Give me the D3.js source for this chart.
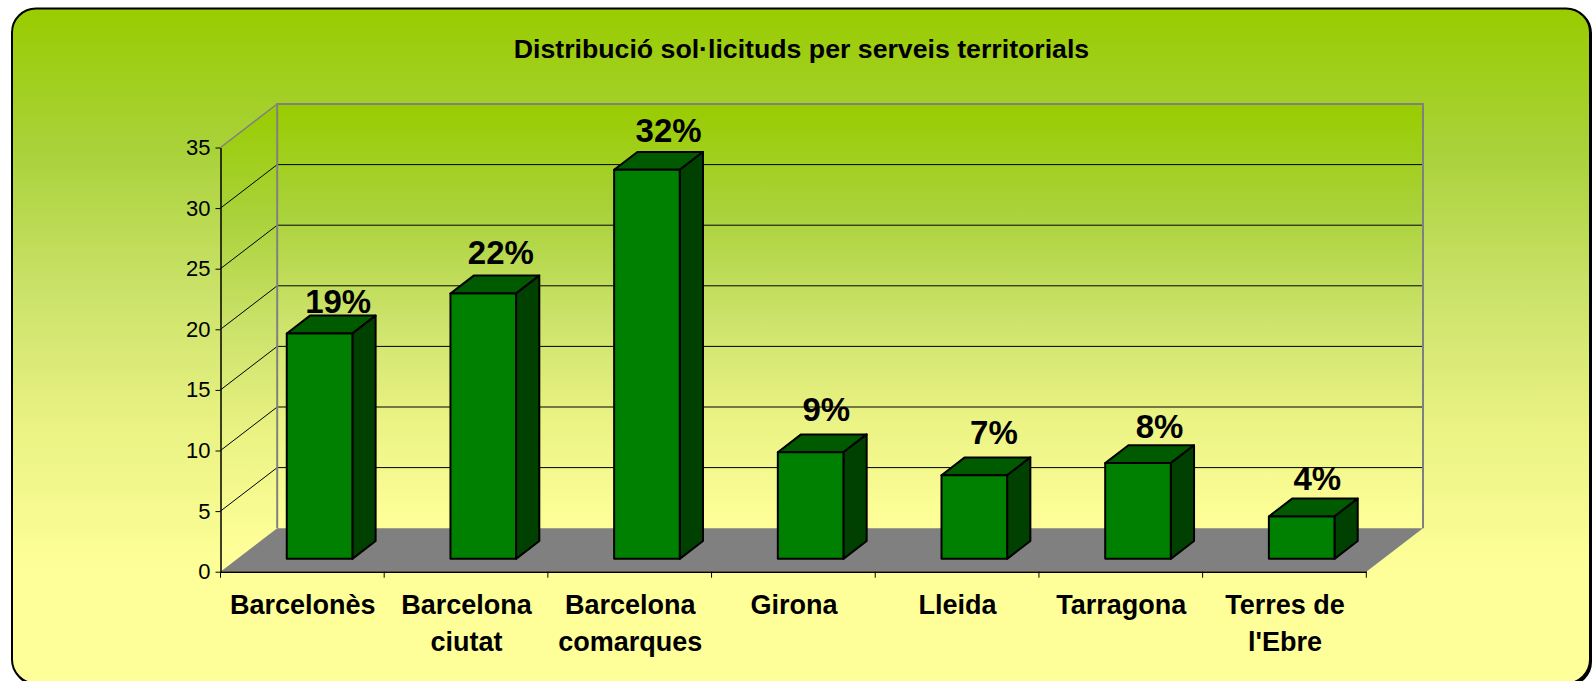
<!DOCTYPE html>
<html>
<head>
<meta charset="utf-8">
<script src="https://cdn.jsdelivr.net/npm/d3@7"></script>
<style>
  html, body { margin: 0; padding: 0; background: #fff; overflow: hidden; }
  text { font-family: "Liberation Sans", Arial, sans-serif; fill: #000; }
</style>
</head>
<body>
<div id="chart"></div>
<script>
// ---------- data ----------
var titleText = "Distribució sol·licituds per serveis territorials";
var categories = ["Barcelonès", "Barcelona ciutat", "Barcelona comarques", "Girona", "Lleida", "Tarragona", "Terres de l'Ebre"];
var values = [18.6, 21.9, 32.1, 8.8, 6.9, 7.9, 3.5];
var percentLabels = ["19%", "22%", "32%", "9%", "7%", "8%", "4%"];
var yTicks = [0, 5, 10, 15, 20, 25, 30, 35];

// ---------- layout ----------
var width = 1593,
    height = 681,
    axisLeft = 220.5,
    axisRight = 1366.3,
    axisBottom = 571.7,
    axisTop = 147.5,
    depthX = 56.7,   // floor depth, front to back wall
    depthY = -43.5,
    barW = 65.6,
    barDepth = 0.41; // share of floor depth taken by a bar

// hand placed percent labels, the original does not sit them evenly
var labelNudgeX = [7, 6, 10, 4, 8, 10, 4];
var labelNudgeY = [-3, -12, -10, -13, -13, -7, -9];

var x = d3.scaleBand().domain(categories).range([axisLeft, axisRight]);
var y = d3.scaleLinear().domain([0, 35]).range([axisBottom, axisTop]);

var svg = d3.select("#chart").append("svg")
    .attr("width", width)
    .attr("height", height)
    .style("display", "block");

function gradient(id, y1, y2) {
    var g = svg.append("defs").append("linearGradient")
        .attr("id", id)
        .attr("gradientUnits", "userSpaceOnUse")
        .attr("x1", 0).attr("x2", 0)
        .attr("y1", y1).attr("y2", y2);
    g.append("stop").attr("offset", 0).attr("stop-color", "#99cc00");
    g.append("stop").attr("offset", 0.25).attr("stop-color", "#a9d23a");
    g.append("stop").attr("offset", 0.5).attr("stop-color", "#cbe26a");
    g.append("stop").attr("offset", 0.75).attr("stop-color", "#ebf384");
    g.append("stop").attr("offset", 1).attr("stop-color", "#ffff99");
}
gradient("panelFill", 8, 575);
gradient("wallFill", y(35) + depthY, y(0) + depthY);
gradient("sideFill", y(35) + depthY, y(0) + depthY / 2);

// panel with hard shadow
svg.append("rect")
    .attr("x", 13).attr("y", 9)
    .attr("width", 1579).attr("height", 677)
    .attr("rx", 24)
    .attr("fill", "#000");
svg.append("rect")
    .attr("x", 12).attr("y", 8.5)
    .attr("width", 1578).attr("height", 675)
    .attr("rx", 24)
    .attr("fill", "url(#panelFill)")
    .attr("stroke", "#000")
    .attr("stroke-width", 2);

svg.append("text")
    .attr("x", 801.5)
    .attr("y", 58)
    .attr("text-anchor", "middle")
    .style("font-size", "26.7px")
    .style("font-weight", "bold")
    .text(titleText);

// walls and floor
function pts(a) { return a.map(function(p) { return p.join(","); }).join(" "); }

svg.append("polygon")
    .attr("points", pts([[axisLeft, y(0)], [axisLeft, y(35)], [axisLeft + depthX, y(35) + depthY], [axisLeft + depthX, y(0) + depthY]]))
    .attr("fill", "url(#sideFill)");
svg.append("rect")
    .attr("x", axisLeft + depthX)
    .attr("y", y(35) + depthY)
    .attr("width", axisRight - axisLeft)
    .attr("height", y(0) - y(35))
    .attr("fill", "url(#wallFill)");
svg.append("polygon")
    .attr("points", pts([[axisLeft, y(0)], [axisRight, y(0)], [axisRight + depthX, y(0) + depthY], [axisLeft + depthX, y(0) + depthY]]))
    .attr("fill", "#808080");

// gridlines on both walls
var grid = svg.append("g").attr("fill", "none").attr("stroke", "#000").attr("stroke-width", 1);
grid.selectAll("polyline")
    .data(yTicks.slice(1, -1))
    .enter().append("polyline")
    .attr("points", function(d) {
        return pts([[axisLeft, y(d)], [axisLeft + depthX, y(d) + depthY], [axisRight + depthX, y(d) + depthY]]);
    });
grid.append("line")
    .attr("x1", axisLeft).attr("x2", axisLeft + depthX)
    .attr("y1", y(35)).attr("y2", y(35) + depthY)
    .attr("stroke", "#808080").attr("stroke-width", 1.5);

// grey frame of the back wall
svg.append("polyline")
    .attr("points", pts([
        [axisLeft + depthX, y(0) + depthY],
        [axisLeft + depthX, y(35) + depthY],
        [axisRight + depthX, y(35) + depthY],
        [axisRight + depthX, y(0) + depthY]]))
    .attr("fill", "none")
    .attr("stroke", "#808080")
    .attr("stroke-width", 2);

// bars: front face, top and side
var dx = depthX * barDepth,
    dy = depthY * barDepth,
    offX = depthX * (1 - barDepth) / 2,
    offY = depthY * (1 - barDepth) / 2;

var bars = svg.selectAll("g.bar")
    .data(categories.map(function(c, i) { return { name: c, value: values[i], label: percentLabels[i], i: i }; }))
    .enter().append("g")
    .attr("class", "bar")
    .attr("stroke", "#000")
    .attr("stroke-width", 2)
    .attr("stroke-linejoin", "round");

function barX(d) { return x(d.name) + (x.bandwidth() - barW) / 2 + offX + 0.5; }

bars.append("polygon")
    .attr("fill", "#005a00")
    .attr("points", function(d) {
        var l = barX(d), t = y(d.value) + offY;
        return pts([[l, t], [l + dx, t + dy], [l + barW + dx, t + dy], [l + barW, t]]);
    });
bars.append("polygon")
    .attr("fill", "#004000")
    .attr("points", function(d) {
        var l = barX(d) + barW, t = y(d.value) + offY, b = y(0) + offY;
        return pts([[l, t], [l + dx, t + dy], [l + dx, b + dy], [l, b]]);
    });
bars.append("rect")
    .attr("fill", "#008000")
    .attr("x", barX)
    .attr("y", function(d) { return y(d.value) + offY; })
    .attr("width", barW)
    .attr("height", function(d) { return y(0) - y(d.value); });

svg.selectAll("text.pct")
    .data(bars.data())
    .enter().append("text")
    .attr("class", "pct")
    .attr("text-anchor", "middle")
    .attr("x", function(d) { return barX(d) + barW / 2 + dx / 2 + labelNudgeX[d.i]; })
    .attr("y", function(d) { return y(d.value) + offY + dy + labelNudgeY[d.i]; })
    .style("font-size", "33px")
    .style("font-weight", "bold")
    .text(function(d) { return d.label; });

// axes
var yAxis = svg.append("g")
    .attr("transform", "translate(" + axisLeft + ",0)")
    .call(d3.axisLeft(y).tickValues(yTicks).tickSize(5).tickPadding(5).tickSizeOuter(0));
yAxis.selectAll("text").style("font-size", "22px").attr("dy", "0.32em");

var xAxis = svg.append("g")
    .attr("transform", "translate(0," + axisBottom + ")")
    .call(d3.axisBottom(x).tickSize(0).tickFormat(""));
xAxis.selectAll("text").remove();
svg.selectAll("line.xtick")
    .data(d3.range(categories.length + 1))
    .enter().append("line")
    .attr("class", "xtick")
    .attr("stroke", "#000")
    .attr("x1", function(i) { return axisLeft + i * x.bandwidth(); })
    .attr("x2", function(i) { return axisLeft + i * x.bandwidth(); })
    .attr("y1", axisBottom).attr("y2", axisBottom + 6);
yAxis.select(".domain").attr("stroke", "#000").attr("stroke-width", 1.5);
xAxis.select(".domain").attr("stroke", "#000").attr("stroke-width", 1.5);

// category labels, wrapped at the last space like the original
var catLabels = svg.selectAll("text.cat")
    .data(categories)
    .enter().append("text")
    .attr("class", "cat")
    .attr("text-anchor", "middle")
    .style("font-size", "27px")
    .style("font-weight", "bold");
catLabels.each(function(d) {
    var cut = d.lastIndexOf(" ");
    var lines = cut < 0 ? [d] : [d.slice(0, cut), d.slice(cut + 1)];
    var t = d3.select(this);
    lines.forEach(function(line, i) {
        t.append("tspan")
            .attr("x", x(d) + x.bandwidth() / 2 + 0.5)
            .attr("y", 613.5 + i * 37.5)
            .text(line);
    });
});
</script>
</body>
</html>
